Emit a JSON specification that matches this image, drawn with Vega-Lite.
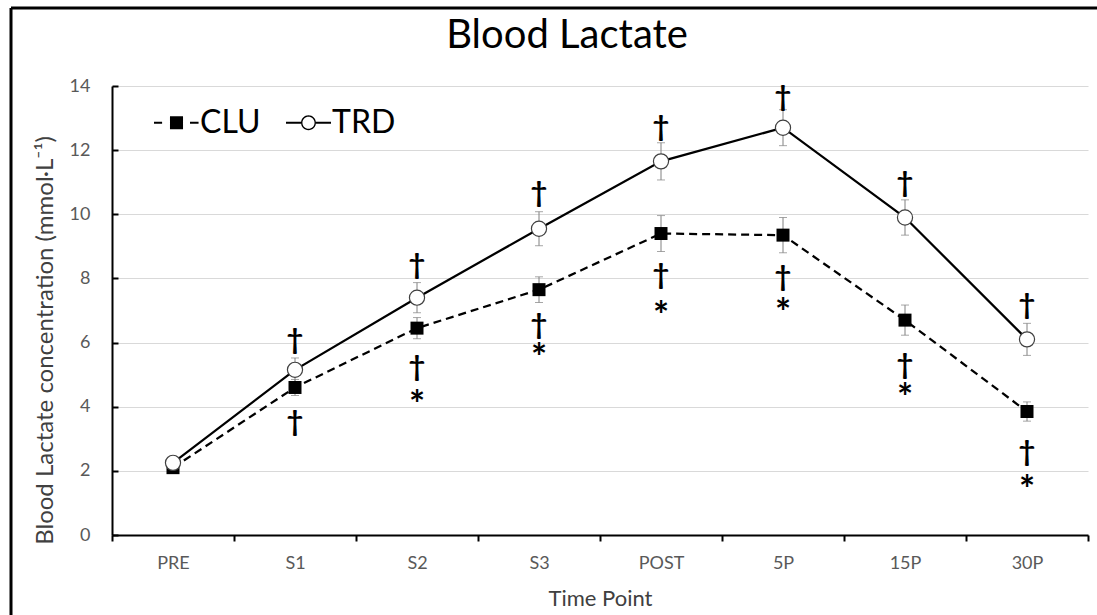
{
  "$schema": "https://vega.github.io/schema/vega-lite/v6.json",
  "width": 1086,
  "height": 607,
  "autosize": "none",
  "padding": {"left": 11, "top": 8, "right": 0, "bottom": 0},
  "background": "white",
  "view": {"stroke": "black", "strokeWidth": 3, "strokeDash": [1086, 1693, 607, 0], "fill": "white"},
  "title": {"text": "Blood Lactate", "font": "Lato", "fontSize": 40, "fontWeight": "normal", "color": "black", "anchor": "middle", "frame": "group", "baseline": "alphabetic", "offset": 0, "dy": 80, "dx": 13},
  "datasets": {
    "main": [
      {"time": "PRE", "group": "CLU", "value": 2.1, "lo": 2.02, "hi": 2.18},
      {"time": "S1", "group": "CLU", "value": 4.6, "lo": 4.35, "hi": 4.85},
      {"time": "S2", "group": "CLU", "value": 6.45, "lo": 6.12, "hi": 6.78},
      {"time": "S3", "group": "CLU", "value": 7.65, "lo": 7.25, "hi": 8.05},
      {"time": "POST", "group": "CLU", "value": 9.4, "lo": 8.84, "hi": 9.96},
      {"time": "5P", "group": "CLU", "value": 9.35, "lo": 8.8, "hi": 9.9},
      {"time": "15P", "group": "CLU", "value": 6.7, "lo": 6.23, "hi": 7.17},
      {"time": "30P", "group": "CLU", "value": 3.85, "lo": 3.55, "hi": 4.15},
      {"time": "PRE", "group": "TRD", "value": 2.25, "lo": 2.15, "hi": 2.35},
      {"time": "S1", "group": "TRD", "value": 5.15, "lo": 4.78, "hi": 5.52},
      {"time": "S2", "group": "TRD", "value": 7.4, "lo": 6.93, "hi": 7.87},
      {"time": "S3", "group": "TRD", "value": 9.55, "lo": 9.02, "hi": 10.08},
      {"time": "POST", "group": "TRD", "value": 11.65, "lo": 11.07, "hi": 12.23},
      {"time": "5P", "group": "TRD", "value": 12.7, "lo": 12.14, "hi": 13.26},
      {"time": "15P", "group": "TRD", "value": 9.9, "lo": 9.35, "hi": 10.45},
      {"time": "30P", "group": "TRD", "value": 6.1, "lo": 5.6, "hi": 6.6}
    ],
    "marks": [
      {"time": "S1", "y": 6.08, "label": "†"},
      {"time": "S2", "y": 8.42, "label": "†"},
      {"time": "S3", "y": 10.66, "label": "†"},
      {"time": "POST", "y": 12.72, "label": "†"},
      {"time": "5P", "y": 13.66, "label": "†"},
      {"time": "15P", "y": 10.98, "label": "†"},
      {"time": "30P", "y": 7.17, "label": "†"},
      {"time": "S1", "y": 3.52, "label": "†"},
      {"time": "S2", "y": 5.24, "label": "†"},
      {"time": "S3", "y": 6.55, "label": "†"},
      {"time": "POST", "y": 8.1, "label": "†"},
      {"time": "5P", "y": 8.05, "label": "†"},
      {"time": "15P", "y": 5.3, "label": "†"},
      {"time": "30P", "y": 2.59, "label": "†"},
      {"time": "S2", "y": 4.3, "label": "*"},
      {"time": "S3", "y": 5.77, "label": "*"},
      {"time": "POST", "y": 7.08, "label": "*"},
      {"time": "5P", "y": 7.17, "label": "*"},
      {"time": "15P", "y": 4.52, "label": "*"},
      {"time": "30P", "y": 1.65, "label": "*"}
    ]
  },
  "data": {"name": "main"},
  "encoding": {
    "x": {
      "field": "time", "type": "nominal", "sort": ["PRE", "S1", "S2", "S3", "POST", "5P", "15P", "30P"],
      "scale": {"type": "band", "domain": ["PRE", "S1", "S2", "S3", "POST", "5P", "15P", "30P"], "range": [101, 1077], "paddingInner": 0, "paddingOuter": 0},
      "axis": {
        "title": "Time Point", "offset": -80, "tickBand": "extent", "labelAngle": 0,
        "labelFont": "Lato", "labelFontSize": 18, "labelColor": "#595959", "labelPadding": 13,
        "tickSize": 6, "tickColor": "black", "tickWidth": 2,
        "domainColor": "black", "domainWidth": 2,
        "titleFont": "Lato", "titleFontSize": 22, "titleFontWeight": "normal", "titleColor": "#404040", "titlePadding": 16,
        "grid": false
      }
    }
  },
  "layer": [
    {
      "transform": [{"filter": "datum.group === 'CLU'"}],
      "mark": {"type": "line", "color": "black", "strokeWidth": 2.25, "strokeDash": [8, 5]},
      "encoding": {
        "y": {
          "field": "value", "type": "quantitative",
          "scale": {"domain": [0, 14], "range": [527, 78], "nice": false, "zero": false},
          "axis": {
            "title": "Blood Lactate concentration (mmol·L⁻¹)", "offset": -101, "values": [0, 2, 4, 6, 8, 10, 12, 14],
            "labelFont": "Lato", "labelFontSize": 18, "labelColor": "#595959", "labelPadding": 28,
            "tickSize": -6, "tickColor": "black", "tickWidth": 2,
            "domainColor": "black", "domainWidth": 2,
            "grid": true, "gridColor": "#d9d9d9", "gridWidth": 1,
            "titleFont": "Lato", "titleFontSize": 24, "titleFontWeight": "normal", "titleColor": "#404040",
            "titleX": -67, "titleY": 332, "titleAngle": -90, "titleAlign": "center", "titleBaseline": "middle"
          }
        }
      }
    },
    {
      "transform": [{"filter": "datum.group === 'TRD'"}],
      "mark": {"type": "line", "color": "black", "strokeWidth": 2.25},
      "encoding": {"y": {"field": "value", "type": "quantitative"}}
    },
    {
      "mark": {"type": "rule", "color": "#808080", "strokeWidth": 1},
      "encoding": {"y": {"field": "lo", "type": "quantitative"}, "y2": {"field": "hi"}}
    },
    {
      "mark": {"type": "tick", "color": "#808080", "thickness": 1, "size": 8},
      "encoding": {"y": {"field": "lo", "type": "quantitative"}}
    },
    {
      "mark": {"type": "tick", "color": "#808080", "thickness": 1, "size": 8},
      "encoding": {"y": {"field": "hi", "type": "quantitative"}}
    },
    {
      "transform": [{"filter": "datum.group === 'CLU'"}],
      "mark": {"type": "point", "shape": "square", "filled": true, "fill": "black", "size": 169, "opacity": 1},
      "encoding": {"y": {"field": "value", "type": "quantitative"}}
    },
    {
      "transform": [{"filter": "datum.group === 'TRD'"}],
      "mark": {"type": "point", "shape": "circle", "filled": true, "fill": "white", "stroke": "#404040", "strokeWidth": 1.2, "size": 230, "opacity": 1},
      "encoding": {"y": {"field": "value", "type": "quantitative"}}
    },
    {
      "data": {"name": "marks"},
      "transform": [{"filter": "datum.label === '†'"}],
      "mark": {"type": "text", "font": "Lato", "fontSize": 29, "fontWeight": "bold", "color": "black", "baseline": "middle", "align": "center"},
      "encoding": {"y": {"field": "y", "type": "quantitative"}, "text": {"field": "label"}}
    },
    {
      "data": {"name": "marks"},
      "transform": [{"filter": "datum.label === '*'"}],
      "mark": {"type": "text", "font": "Lato", "fontSize": 38, "fontWeight": "bold", "color": "black", "baseline": "middle", "align": "center", "dy": 10},
      "encoding": {"y": {"field": "y", "type": "quantitative"}, "text": {"field": "label"}}
    },
    {
      "transform": [{"filter": "false"}],
      "mark": {"type": "point", "filled": true, "color": "black", "opacity": 1},
      "encoding": {
        "y": {"field": "value", "type": "quantitative"},
        "shape": {
          "field": "group", "type": "nominal",
          "scale": {"domain": ["CLU", "TRD"], "range": ["M-1,-0.044H-0.64V0.044H-1ZM0.6,-0.044H0.98V0.044H0.6ZM-0.29,-0.29H0.29V0.29H-0.29Z", "M-1,-0.044H-0.33V0.044H-1ZM0.33,-0.044H1V0.044H0.33ZM0.33,0A0.33,0.33,0,1,1,-0.33,0A0.33,0.33,0,1,1,0.33,0ZM0.27,0A0.27,0.27,0,1,0,-0.27,0A0.27,0.27,0,1,0,0.27,0Z"]},
          "legend": {
            "title": null, "orient": "none", "legendX": 143, "legendY": 92, "direction": "horizontal",
            "symbolSize": 2025, "symbolStrokeWidth": 0, "symbolOpacity": 1,
            "labelFont": "Lato", "labelFontSize": 32, "labelColor": "black", "labelOffset": 1,
            "columnPadding": 25, "padding": 0
          }
        }
      }
    }
  ]
}
